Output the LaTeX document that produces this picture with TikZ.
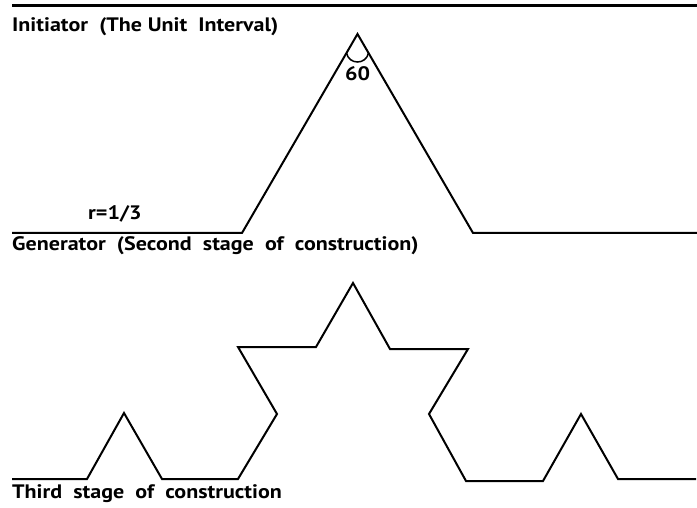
\documentclass[tikz,border=0pt]{standalone}
\usepackage{fontspec}
\usepackage{graphicx}
\setmainfont{PT Sans}
\newcommand{\widetxt}[1]{\scalebox{1.13}[1]{#1}}
\begin{document}
\begin{tikzpicture}[x=1pt,y=-1pt,
  curve/.style={line width=2pt,line join=miter},
  lbl/.style={anchor=base west,inner sep=0pt,font=\bfseries\fontsize{19.5}{22}\selectfont}]
\useasboundingbox (0,0) rectangle (697,508);
% initiator
\draw[line width=3pt] (12,6) -- (697,6);
\node[lbl] (tinit) at (12,32) {\widetxt{Initiator\ \ (The\ Unit\ \ Interval)}};
% generator
\draw[curve] (12,233) -- (242,233) -- (357.5,34) -- (473,233) -- (697,233);
\coordinate (aL) at (346.5,53);
\coordinate (aR) at (368.5,53);
\draw[line width=1.5pt] (aL) .. controls (349,65) and (366,65) .. (aR);
\node[inner sep=0pt,font=\bfseries\fontsize{19.5}{22}\selectfont] (t60) at (357.5,74) {\widetxt{60}};
\node[lbl] (tr) at (88,220) {\widetxt{r=1/3}};
\node[lbl] (tgen) at (12,251) {\widetxt{Generator\ \ (Second\ \ stage\ \ of\ \ construction)}};
% third stage
\draw[curve] (12,479) -- (87,479) -- (124,413) -- (162,479) -- (238,479)
  -- (277,414) -- (238,347) -- (316,347) -- (353,283) -- (390,349)
  -- (468,349) -- (429,414) -- (466,481) -- (543,481) -- (581,414)
  -- (618,479) -- (696,479);
\node[lbl] (tthird) at (12,498) {\widetxt{Third\ \ stage\ \ of\ \ construction}};
\end{tikzpicture}
\end{document}
